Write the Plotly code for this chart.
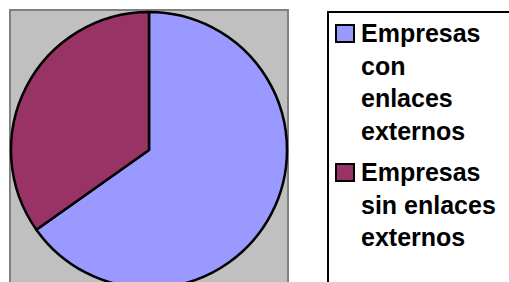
import plotly.graph_objects as go

labels = ["Empresas<br>con<br>enlaces<br>externos", "Empresas<br>sin enlaces<br>externos"]
values = [65.2, 34.8]
colors = ["#9999FF", "#993366"]

W, H = 509, 296

def px(x):
    return x / W

def py(y):
    return 1 - y / H

fig = go.Figure()
fig.add_trace(go.Pie(
    labels=labels, values=values, sort=False, direction="clockwise", rotation=0,
    marker=dict(colors=colors, line=dict(color="black", width=2.5)),
    textinfo="none", hoverinfo="label+percent", showlegend=False,
    domain=dict(x=[px(11), px(287)], y=[py(288), py(12)]),
))

# gray plot area
fig.add_shape(type="rect", xref="paper", yref="paper", x0=px(10), x1=px(288), y0=py(H + 5), y1=py(10),
              fillcolor="#C0C0C0", line=dict(color="#808080", width=2), layer="below")
# legend box
fig.add_shape(type="rect", xref="paper", yref="paper", x0=px(328), x1=px(W + 5), y0=py(H + 5), y1=py(12),
              fillcolor="white", line=dict(color="black", width=2), layer="below")

# legend entries (built from labels / colors)
sym_tops = [25, 164]
for lab, col, top in zip(labels, colors, sym_tops):
    fig.add_shape(type="rect", xref="paper", yref="paper", x0=px(336), x1=px(354),
                  y0=py(top + 17), y1=py(top), fillcolor=col, line=dict(color="black", width=2))
    fig.add_annotation(text=lab, xref="paper", yref="paper", x=px(359), y=py(top - 8),
                       xanchor="left", yanchor="top", align="left", showarrow=False,
                       font=dict(family="Liberation Sans, Arial", size=25, color="black", weight="bold"))

fig.update_layout(
    width=W, height=H, margin=dict(l=0, r=0, t=0, b=0),
    paper_bgcolor="white", plot_bgcolor="white",
    showlegend=False,
)

fig.write_html("out.html", config={"displayModeBar": False},
               post_script="document.body.style.margin='0';document.body.style.overflow='hidden';document.documentElement.style.overflow='hidden';")
